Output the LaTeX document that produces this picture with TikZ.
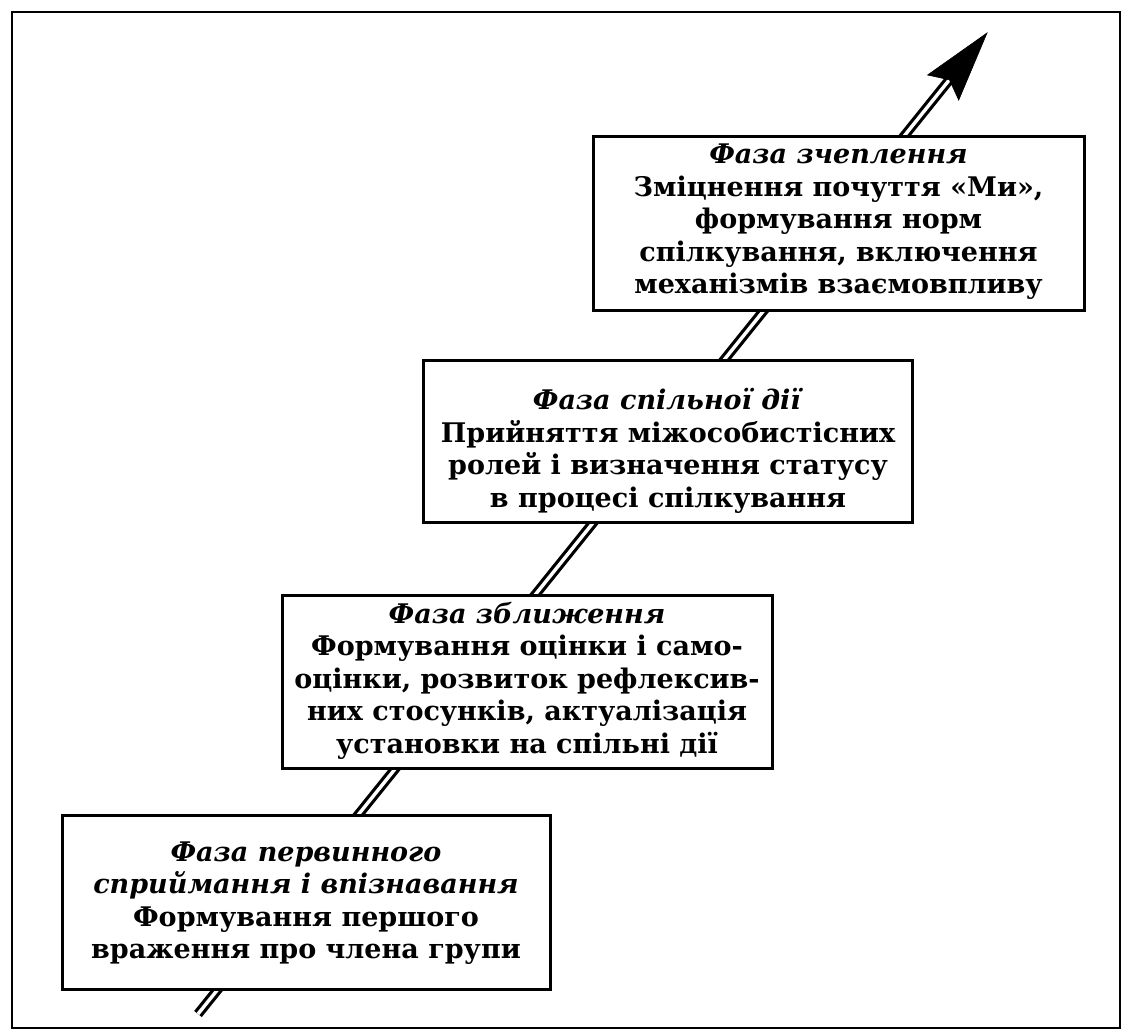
\documentclass[tikz,border=0pt]{standalone}
\usepackage{fontspec}
\setmainfont{DejaVu Serif}
\usetikzlibrary{calc}
\tikzset{
  frame/.style={draw=black, line width=2.6pt},
  phasebox/.style={draw=black, line width=3pt, fill=white, rectangle, inner sep=0pt},
  phasetext/.style={align=center, inner sep=0pt, font=\fontsize{27}{32.5}\selectfont\bfseries},
  shaft/.style={draw=black, line width=3.2pt, double=white, double distance=3.4pt},
  head/.style={fill=black, draw=black, line width=0.6pt, line join=miter}
}
\begin{document}
\begin{tikzpicture}[x=1pt, y=-1pt]
\useasboundingbox (0,0) rectangle (1127,1032);
\draw[frame] (12,12) rectangle (1120,1028);
% arrow
\coordinate (start) at (198,1014);
\coordinate (tip) at (987,33);
\coordinate (base) at ($(tip)!70pt!(start)$);
\coordinate (notch) at ($(tip)!60pt!(start)$);
\coordinate (hl) at ($(base)!20pt!90:(tip)$);
\coordinate (hr) at ($(base)!20pt!-90:(tip)$);
\draw[shaft] (start) -- (notch);
\fill[head] (tip) -- (hl) -- (notch) -- (hr) -- cycle;
% boxes
\node[phasebox, minimum width=491pt, minimum height=174pt] (b1) at (838.5,224) {};
\node[phasetext] (t1) at (838.5,222) {\textit{Фаза зчеплення}\\Зміцнення почуття «Ми»,\\формування норм\\спілкування, включення\\механізмів взаємовпливу};
\node[phasebox, minimum width=489pt, minimum height=162pt] (b2) at (667.5,441) {};
\node[phasetext] (t2) at (668,451) {\textit{Фаза спільної дії}\\Прийняття міжособистісних\\ролей і визначення статусу\\в процесі спілкування};
\node[phasebox, minimum width=490pt, minimum height=173pt] (b3) at (527,681.5) {};
\node[phasetext] (t3) at (527,680.5) {\textit{Фаза зближення}\\Формування оцінки і само-\\оцінки, розвиток рефлексив-\\них стосунків, актуалізація\\установки на спільні дії};
\node[phasebox, minimum width=488pt, minimum height=174pt] (b4) at (306,902) {};
\node[phasetext] (t4) at (306,903) {\textit{Фаза первинного}\\\textit{сприймання і впізнавання}\\Формування першого\\враження про члена групи};
\end{tikzpicture}
\end{document}
